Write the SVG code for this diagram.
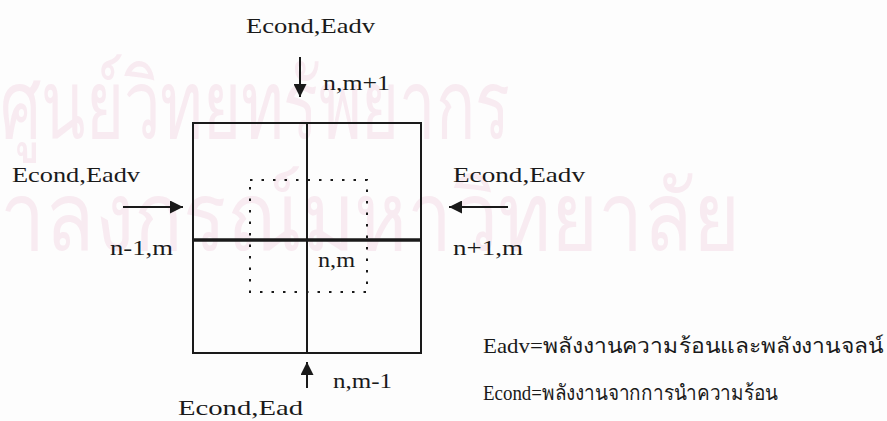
<svg xmlns="http://www.w3.org/2000/svg" width="887" height="421" viewBox="0 0 887 421">
<style>
.t{font-family:"Liberation Serif","Times New Roman",serif;font-size:21px;fill:#1a1a1a}
.wm{font-family:"Noto Sans","DejaVu Sans",sans-serif;fill:#f8ebf1}
.edge{stroke:#1a1a1a;stroke-width:2;fill:none}
.arr{stroke:#1a1a1a;stroke-width:2;fill:none;marker-end:url(#ah)}
</style>
<defs>
<marker id="ah" viewBox="0 0 10 10" refX="10" refY="5" markerUnits="userSpaceOnUse" markerWidth="17" markerHeight="13" orient="auto">
<path d="M0,0 L10,5 L0,10 z" fill="#1a1a1a"/>
</marker>
</defs>
<rect width="887" height="421" fill="#fdfdfd"/>
<g id="watermark">
<text class="wm" x="0" y="138" font-size="96" textLength="510" lengthAdjust="spacingAndGlyphs">ศูนย์วิทยทรัพยากร</text>
<text class="wm" x="0" y="250" font-size="96" textLength="740" lengthAdjust="spacingAndGlyphs">าลงกรณ์มหาวิทยาลัย</text>
</g>
<g id="cell">
<rect x="193" y="123" width="228" height="230" class="edge"/>
<line x1="307" y1="123" x2="307" y2="353" class="edge"/>
<line x1="193" y1="240" x2="421" y2="240" stroke="#1a1a1a" stroke-width="3.5"/>
</g>
<g id="control-volume">
<rect x="250" y="180" width="117" height="112" fill="none" stroke="#1a1a1a" stroke-width="2" stroke-dasharray="2.5 9"/>
<text class="t" x="318" y="267" textLength="37" lengthAdjust="spacingAndGlyphs">n,m</text>
</g>
<g id="connectors">
<line x1="300" y1="57" x2="300" y2="97" class="arr"/>
<line x1="123" y1="207" x2="183" y2="207" class="arr"/>
<line x1="508" y1="207" x2="449" y2="207" class="arr"/>
<line x1="307" y1="388" x2="307" y2="362" class="arr"/>
</g>
<g id="top">
<text class="t" x="246" y="33" textLength="129" lengthAdjust="spacingAndGlyphs">Econd,Eadv</text>
<text class="t" x="323" y="90" textLength="67" lengthAdjust="spacingAndGlyphs">n,m+1</text>
</g>
<g id="left">
<text class="t" x="12" y="182" textLength="128" lengthAdjust="spacingAndGlyphs">Econd,Eadv</text>
<text class="t" x="110" y="255" textLength="63" lengthAdjust="spacingAndGlyphs">n-1,m</text>
</g>
<g id="right">
<text class="t" x="453" y="182" textLength="132" lengthAdjust="spacingAndGlyphs">Econd,Eadv</text>
<text class="t" x="453" y="255" textLength="70" lengthAdjust="spacingAndGlyphs">n+1,m</text>
</g>
<g id="bottom">
<text class="t" x="333" y="388" textLength="59" lengthAdjust="spacingAndGlyphs">n,m-1</text>
<text class="t" x="178" y="415" textLength="125" lengthAdjust="spacingAndGlyphs">Econd,Ead</text>
</g>
<g id="legend">
<text class="t" x="483" y="353" textLength="400" lengthAdjust="spacingAndGlyphs">Eadv=พลังงานความร้อนและพลังงานจลน์</text>
<text class="t" x="483" y="400" textLength="295" lengthAdjust="spacingAndGlyphs">Econd=พลังงานจากการนำความร้อน</text>
</g>
</svg>
